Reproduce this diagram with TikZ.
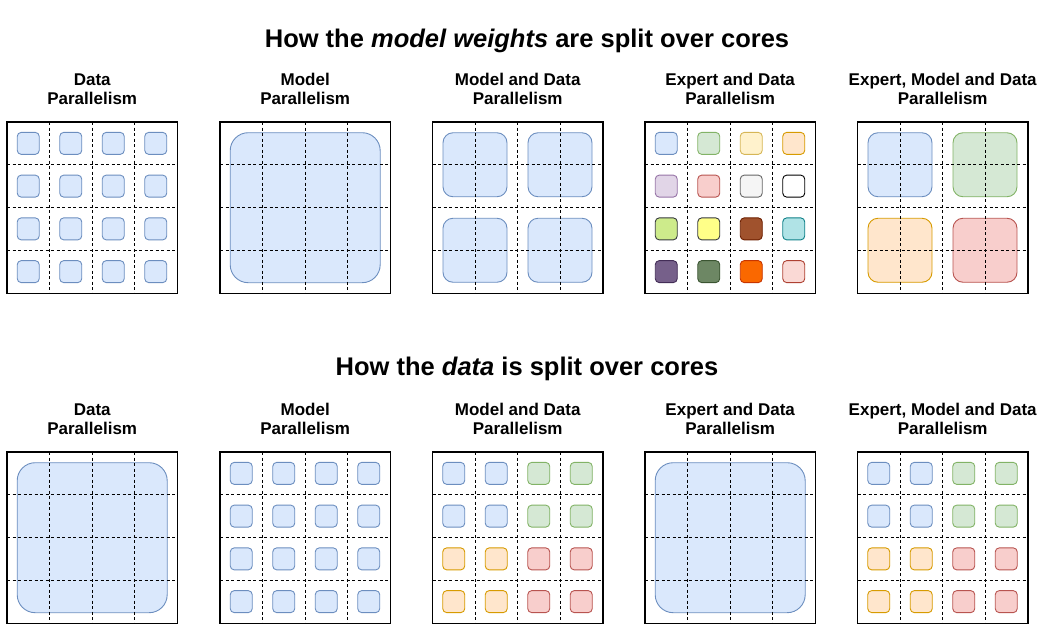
\documentclass[tikz,border=0pt]{standalone}
\usepackage{fontspec}
\setmainfont{Liberation Sans}
\usetikzlibrary{calc}
\definecolor{bF}{HTML}{DAE8FC}\definecolor{bS}{HTML}{6C8EBF}
\definecolor{gF}{HTML}{D5E8D4}\definecolor{gS}{HTML}{82B366}
\definecolor{yF}{HTML}{FFF2CC}\definecolor{yS}{HTML}{D6B656}
\definecolor{oF}{HTML}{FFE6CC}\definecolor{oS}{HTML}{D79B00}
\definecolor{pF}{HTML}{E1D5E7}\definecolor{pS}{HTML}{9673A6}
\definecolor{rF}{HTML}{F8CECC}\definecolor{rS}{HTML}{B85450}
\definecolor{grF}{HTML}{F5F5F5}\definecolor{grS}{HTML}{666666}
\definecolor{wF}{HTML}{FFFFFF}\definecolor{wS}{HTML}{000000}
\definecolor{lF}{HTML}{CDEB8B}\definecolor{lS}{HTML}{36393D}
\definecolor{y2F}{HTML}{FFFF88}\definecolor{y2S}{HTML}{36393D}
\definecolor{brF}{HTML}{A0522D}\definecolor{brS}{HTML}{6D1F00}
\definecolor{cF}{HTML}{B0E3E6}\definecolor{cS}{HTML}{0E8088}
\definecolor{dpF}{HTML}{76608A}\definecolor{dpS}{HTML}{432D57}
\definecolor{dgF}{HTML}{6D8764}\definecolor{dgS}{HTML}{3A5431}
\definecolor{o2F}{HTML}{FA6800}\definecolor{o2S}{HTML}{C73500}
\definecolor{pkF}{HTML}{FAD9D5}\definecolor{pkS}{HTML}{AE4132}
\tikzset{
  cell/.style={draw, line width=0.9pt, rounded corners=4pt, minimum width=22pt, minimum height=22pt, inner sep=0pt},
  midbox/.style={draw, line width=0.9pt, rounded corners=10pt, minimum width=64pt, minimum height=64pt, inner sep=0pt},
  bigbox/.style={draw, line width=0.9pt, rounded corners=18pt, minimum width=150pt, minimum height=150pt, inner sep=0pt},
  gridline/.style={line width=0.8pt, dash pattern=on 3pt off 2.5pt},
  frame/.style={line width=1.2pt},
  panelarea/.style={inner sep=0pt, minimum width=170pt, minimum height=171pt, anchor=north west},
  lbl/.style={font=\bfseries\fontsize{17}{19.5}\selectfont, align=center, inner sep=0pt},
  ttl/.style={font=\bfseries\fontsize{25.5}{30}\selectfont, inner sep=0pt},
}
\newcommand\mkpanel[3]{\node[panelarea] (#3) at (#1,#2) {};}
\newcommand\mkgrid[1]{%
  \foreach \f in {0.25,0.5,0.75}{
    \draw[gridline] ($(#1.north west)!\f!(#1.north east)$) -- ($(#1.south west)!\f!(#1.south east)$);
    \draw[gridline] ($(#1.north west)!\f!(#1.south west)$) -- ($(#1.north east)!\f!(#1.south east)$);
  }
  \draw[frame] (#1.north west) rectangle (#1.south east);}
\newcommand\smallbox[4]{% panel col row color
  \node[cell, fill=#4F, draw=#4S] (#1-#2-#3) at ($(#1.north west)+({(#2+0.5)*42.5},{(#3+0.5)*42.75})$) {};}
\newcommand\midbox[4]{% panel col row color (col,row in 0..1)
  \node[midbox, fill=#4F, draw=#4S] (#1-m#2#3) at ($(#1.north west)+({(#2+0.5)*85},{(#3+0.5)*85.5})$) {};}
\begin{document}
\begin{tikzpicture}[x=1pt,y=-1pt]
\useasboundingbox (0,0) rectangle (1037,632);
% titles
\node[ttl, anchor=base] (t1) at (527,47) {How the \textit{model weights} are split over cores};
\node[ttl, anchor=base] (t2) at (527,375) {How the \textit{data} is split over cores};
% panel positions
\mkpanel{7}{122}{A1}\mkpanel{220}{122}{A2}\mkpanel{432.5}{122}{A3}\mkpanel{645}{122}{A4}\mkpanel{857.5}{122}{A5}
\mkpanel{7}{452}{B1}\mkpanel{220}{452}{B2}\mkpanel{432.5}{452}{B3}\mkpanel{645}{452}{B4}\mkpanel{857.5}{452}{B5}
% labels
\foreach \p/\t in {A1/{Data\\Parallelism},A2/{Model\\Parallelism},A3/{Model and Data\\Parallelism},A4/{Expert and Data\\Parallelism},A5/{Expert, Model and Data\\Parallelism},
B1/{Data\\Parallelism},B2/{Model\\Parallelism},B3/{Model and Data\\Parallelism},B4/{Expert and Data\\Parallelism},B5/{Expert, Model and Data\\Parallelism}}
  \node[lbl, anchor=south] (\p-l) at ($(\p.north)+(0,-17)$) {\t};
% ---- top row
\foreach \i in {0,...,3}{\foreach \j in {0,...,3}{\smallbox{A1}{\i}{\j}{b}}}
\node[bigbox, fill=bF, draw=bS] (A2-big) at (A2.center) {};
\foreach \i in {0,1}{\foreach \j in {0,1}{\midbox{A3}{\i}{\j}{b}}}
\foreach \c [count=\k from 0] in {b,g,y,o,p,r,gr,w,l,y2,br,c,dp,dg,o2,pk}{
  \pgfmathtruncatemacro\ci{mod(\k,4)}\pgfmathtruncatemacro\rj{div(\k,4)}
  \smallbox{A4}{\ci}{\rj}{\c}}
\midbox{A5}{0}{0}{b}\midbox{A5}{1}{0}{g}\midbox{A5}{0}{1}{o}\midbox{A5}{1}{1}{r}
% ---- bottom row
\node[bigbox, fill=bF, draw=bS] (B1-big) at (B1.center) {};
\foreach \i in {0,...,3}{\foreach \j in {0,...,3}{\smallbox{B2}{\i}{\j}{b}}}
\foreach \P in {B3,B5}{
  \foreach \i/\j/\c in {0/0/b,1/0/b,0/1/b,1/1/b,2/0/g,3/0/g,2/1/g,3/1/g,0/2/o,1/2/o,0/3/o,1/3/o,2/2/r,3/2/r,2/3/r,3/3/r}
    {\smallbox{\P}{\i}{\j}{\c}}}
\node[bigbox, fill=bF, draw=bS] (B4-big) at (B4.center) {};
% grids and frames on top
\foreach \p in {A1,A2,A3,A4,A5,B1,B2,B3,B4,B5}{\mkgrid{\p}}
\end{tikzpicture}
\end{document}
